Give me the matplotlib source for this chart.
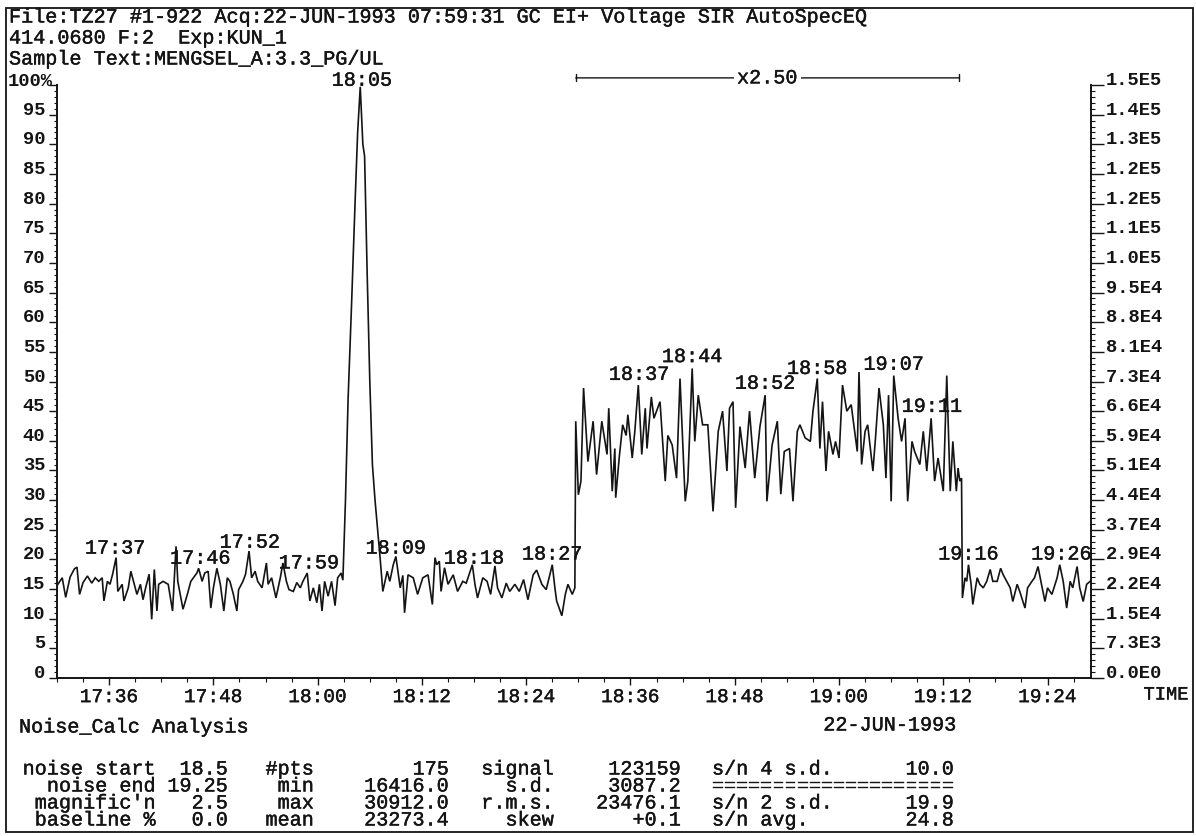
import numpy as np
import matplotlib
matplotlib.use("Agg")
import matplotlib.pyplot as plt
import matplotlib.patheffects as pe
from matplotlib.ticker import FixedLocator, MultipleLocator, FuncFormatter
from matplotlib.patches import Rectangle

# ---------------- data ----------------
# retention time in seconds after 17:00 (17:36 -> 36)
time_s = [
    30.1, 30.6, 31.0, 31.5, 32.0, 32.3, 32.6, 33.0, 33.5, 34.0, 34.4, 34.8, 35.2, 35.4, 35.8,
    36.1, 36.4, 36.8, 37.0, 37.5, 37.7, 38.2, 38.5, 38.9, 39.2, 39.6, 39.9, 40.2, 40.6, 40.9,
    41.2, 41.5, 41.7, 42.2, 42.8, 43.3, 43.7, 43.9, 44.5, 45.0, 45.4, 45.7, 46.1, 46.3, 46.7,
    47.0, 47.4, 47.7, 48.0, 48.4, 48.8, 49.2, 49.6, 49.9, 50.3, 50.7, 50.9, 51.4, 51.7, 52.1,
    52.4, 52.8, 53.1, 53.6, 54.1, 54.3, 54.7, 55.2, 55.7, 56.0, 56.4, 56.7, 57.2, 57.6, 58.0,
    58.3, 58.8, 59.1, 59.5, 59.9, 60.2, 60.5, 60.8, 61.2, 61.6, 62.0, 62.3, 62.7, 62.9,
    63.2, 63.5, 63.9, 64.3, 64.6, 64.9, 65.2, 65.4, 65.7, 66.0, 66.3, 66.6, 66.9, 67.2, 67.5,
    68.0, 68.3, 68.7, 69.0, 69.5, 69.8, 70.0, 70.4, 71.0, 71.5, 72.1, 72.7, 73.2, 73.5, 73.7,
    74.0, 74.2, 74.6, 75.0, 75.6, 76.1, 76.7, 77.1, 77.8, 78.1, 78.4, 79.0, 79.5, 79.9, 80.4,
    80.7, 81.2, 81.7, 82.1, 82.7, 83.2, 83.7, 84.2, 84.8, 85.2, 85.8, 86.3, 87.0, 87.3, 87.5,
    88.1, 88.5, 88.8, 89.3, 89.6,
    89.7, 90.0, 90.3, 90.6, 91.1, 91.7, 92.1, 92.7, 93.3, 93.5, 93.9, 94.2, 94.3, 94.7, 95.1,
    95.5, 95.7, 96.2, 96.5, 96.9, 97.3, 97.7, 97.9, 98.4, 98.7, 99.4, 100.0, 100.3, 100.8, 101.3,
    101.7, 102.3, 102.6, 103.1, 103.4, 103.8, 104.3, 104.9, 105.5, 106.1, 106.6, 107.1, 107.4, 107.8, 108.1,
    108.6, 109.2, 109.7, 110.3, 110.9, 111.5, 111.7, 112.3, 112.9, 113.3, 113.7, 114.3, 114.7, 115.2, 115.5,
    116.1, 116.7, 117.0, 117.5, 117.8, 118.1, 118.5, 118.8, 119.3, 119.6, 120.0, 120.4, 120.9, 121.4, 121.8,
    122.1, 122.3, 122.6, 123.0, 123.3, 123.9, 124.2, 124.6, 125.1, 125.4, 125.7, 126.0, 126.3, 126.8, 127.2,
    127.6, 127.9, 128.4, 128.7, 129.3, 129.7, 130.1, 130.6, 131.0, 131.4, 132.0, 132.4, 132.8, 133.1, 133.5,
    133.7, 133.9, 134.1,
    134.2, 134.5, 134.7, 134.9, 135.2, 135.4, 135.9, 136.2, 136.6, 137.0, 137.4, 137.7, 138.2, 138.6, 138.9,
    139.3, 139.7, 140.0, 140.5, 140.8, 141.4, 141.7, 142.2, 142.5, 142.9, 143.3, 143.7, 144.0, 144.5, 145.1,
    145.4, 145.8, 146.2, 146.6, 146.9, 147.4, 147.7, 148.1, 148.5, 148.9,
]
# displayed intensity, % of full scale (the 18:30-19:14 window is shown x2.5)
intensity_pct = [
    15.8, 16.9, 13.6, 17.0, 18.4, 18.7, 14.1, 16.1, 17.2, 16.0, 16.9, 16.3, 16.9, 13.0, 16.3,
    15.8, 17.5, 20.3, 14.6, 15.8, 13.0, 15.2, 18.0, 15.8, 14.1, 15.8, 13.2, 15.2, 17.5, 9.9,
    18.3, 11.3, 15.8, 16.3, 15.8, 11.3, 22.2, 16.3, 11.6, 14.1, 16.3, 16.9, 17.7, 18.5, 16.3,
    17.7, 18.0, 11.8, 15.2, 18.5, 15.8, 11.3, 16.9, 16.3, 14.1, 11.3, 14.9, 16.3, 17.5, 21.4,
    16.9, 18.0, 16.3, 15.2, 19.4, 15.8, 16.9, 13.5, 16.9, 19.4, 16.3, 14.9, 14.6, 16.1, 15.2,
    16.3, 17.7, 13.0, 15.2, 12.7, 15.8, 11.3, 16.3, 13.8, 16.3, 12.2, 16.9, 17.7, 16.5,
    30.0, 47.0, 63.0, 80.0, 92.0, 99.7, 90.0, 88.0, 68.0, 50.0, 36.0, 30.0, 25.0, 20.0, 14.6,
    18.0, 16.3, 19.1, 20.5, 15.2, 17.3, 11.0, 17.4, 16.9, 14.1, 16.9, 17.4, 12.4, 20.3, 19.1,
    19.7, 14.6, 18.6, 15.8, 17.4, 14.6, 16.3, 16.0, 19.1, 15.8, 13.5, 16.9, 16.3, 14.1, 18.9,
    15.2, 13.5, 16.0, 14.6, 15.8, 14.6, 16.6, 13.2, 17.4, 18.2, 15.8, 14.9, 19.1, 15.2, 13.0,
    10.5, 14.1, 15.8, 14.1, 15.2,
    43.3, 30.9, 33.2, 48.9, 36.5, 43.3, 34.3, 43.3, 37.7, 45.5, 31.5, 38.7, 30.4, 37.1, 42.7,
    40.9, 44.4, 37.1, 41.6, 49.4, 37.7, 45.5, 38.7, 47.4, 43.8, 46.6, 33.2, 40.9, 39.3, 33.7,
    50.5, 29.8, 33.2, 52.2, 39.9, 47.7, 42.7, 42.7, 28.1, 41.6, 45.0, 34.9, 45.5, 46.6, 28.7,
    42.4, 35.4, 45.0, 33.7, 42.4, 47.7, 29.8, 39.3, 43.3, 31.0, 38.2, 38.7, 29.8, 41.6, 42.7,
    40.5, 39.9, 45.0, 50.5, 38.7, 46.6, 34.9, 41.6, 37.7, 39.9, 37.1, 49.4, 45.0, 46.1, 41.6,
    38.2, 51.6, 36.0, 41.6, 42.7, 34.9, 40.5, 48.9, 42.7, 33.7, 47.7, 29.8, 51.0, 43.8, 39.9,
    43.8, 29.8, 39.9, 38.2, 36.0, 41.6, 34.9, 43.8, 33.2, 37.1, 31.5, 51.0, 31.5, 39.9, 31.5,
    35.4, 33.2, 33.7,
    13.5, 16.9, 16.3, 19.1, 15.8, 12.4, 16.9, 15.8, 15.2, 16.3, 18.3, 16.3, 16.3, 18.5, 17.4,
    16.3, 15.2, 12.9, 15.8, 14.6, 11.8, 15.2, 16.3, 16.9, 18.8, 15.8, 12.9, 15.2, 14.1, 16.9,
    19.1, 16.3, 11.8, 16.3, 15.2, 18.8, 15.2, 12.9, 15.8, 16.3,
]

peak_labels = ["17:37", "17:46", "17:52", "17:59", "18:05", "18:09", "18:18", "18:27",
               "18:37", "18:44", "18:52", "18:58", "19:07", "19:11", "19:16", "19:26"]
peak_label_time = [36.7, 46.5, 52.2, 59.0, 65.1, 69.0, 78.0, 87.0,
                   97.0, 103.1, 111.5, 117.5, 126.3, 130.7, 134.9, 145.6]
peak_label_pct = [21.9, 20.2, 22.9, 19.4, 100.8, 21.9, 20.2, 20.9,
                  51.2, 54.2, 49.7, 52.2, 52.9, 45.8, 20.9, 20.9]

xtick_seconds = [36, 48, 60, 72, 84, 96, 108, 120, 132, 144]
time_range = (30.0, 149.0)
full_scale = 1.466e5
magnify_label = "x2.50"
magnify_start_s = 89.7
magnify_end_s = 133.8

header_lines = [
    "File:TZ27 #1-922 Acq:22-JUN-1993 07:59:31 GC EI+ Voltage SIR AutoSpecEQ",
    "414.0680 F:2  Exp:KUN_1",
    "Sample Text:MENGSEL_A:3.3_PG/UL",
]
analysis_title = "Noise_Calc Analysis"
analysis_date = "22-JUN-1993"
col_names1 = ["noise start", "noise end", "magnific'n", "baseline %"]
col_vals1 = ["18.5", "19.25", "2.5", "0.0"]
col_names2 = ["#pts", "min", "max", "mean"]
col_vals2 = ["175", "16416.0", "30912.0", "23273.4"]
col_names3 = ["signal", "s.d.", "r.m.s.", "skew"]
col_vals3 = ["123159", "3087.2", "23476.1", "+0.1"]
col_names4 = ["s/n 4 s.d.", "====================", "s/n 2 s.d.", "s/n avg."]
col_vals4 = ["10.0", "", "19.9", "24.8"]

# ---------------- figure ----------------
W, H = 1196, 836
FONT = "Liberation Mono"
INK = "#141414"
plt.rcParams["font.family"] = [FONT, "DejaVu Sans"]
THICK = [pe.withStroke(linewidth=0.3, foreground=INK)]

fig = plt.figure(figsize=(W / 100, H / 100), dpi=100)
fig.patch.set_facecolor("white")


def fx(x):
    return x / W


def fy(y):
    return 1 - y / H


ax_l, ax_r, ax_b, ax_t = 57, 1091, 678, 85
ax = fig.add_axes([fx(ax_l), fy(ax_b), (ax_r - ax_l) / W, (ax_b - ax_t) / H])
ax.plot(time_s, intensity_pct, color=INK, lw=1.2, solid_joinstyle="miter")
ax.set_xlim(*time_range)
ax.set_ylim(0, 100)

for s in ["top", "right"]:
    ax.spines[s].set_visible(False)
for s in ["left", "bottom"]:
    ax.spines[s].set_linewidth(1.4)
    ax.spines[s].set_color(INK)

# left % axis
yt = list(range(0, 101, 5))
ax.yaxis.set_major_locator(FixedLocator(yt))
ax.set_yticklabels(["" if v == 100 else str(v) for v in yt])
ax.yaxis.set_minor_locator(MultipleLocator(1))
ax.tick_params(axis="y", which="major", direction="out", length=6, width=1.0,
               pad=2.5, labelsize=13.5, colors=INK)
ax.tick_params(axis="y", which="minor", direction="out", length=2.5, width=0.8, colors=INK)
for lab in ax.get_yticklabels():
    lab.set_fontweight("bold")
for tk in ax.yaxis.get_major_ticks():
    tk.label1.set_verticalalignment("baseline")
fig.text(fx(8), fy(81), "100%", ha="left", va="center", fontsize=13.5,
         fontweight="bold", color=INK)

# time axis
ax.xaxis.set_major_locator(FixedLocator(xtick_seconds))
ax.xaxis.set_major_formatter(FuncFormatter(lambda s, p: f"{17 + int(s) // 60}:{int(s) % 60:02d}"))
ax.xaxis.set_minor_locator(MultipleLocator(3))
ax.tick_params(axis="x", which="major", direction="out", length=5, width=1.0,
               pad=3, labelsize=14, colors=INK)
ax.tick_params(axis="x", which="minor", direction="out", length=3, width=0.8, colors=INK)
for lab in ax.get_xticklabels():
    lab.set_path_effects(THICK)

# right absolute axis
ax2 = ax.twinx()
ax2.set_ylim(0, full_scale)
ax2.yaxis.set_major_locator(FixedLocator(np.arange(21) * full_scale / 20))
ax2.yaxis.set_major_formatter(FuncFormatter(
    lambda v, p: f"{v:.1E}".replace("E+0", "E").replace("E+", "E")))
ax2.yaxis.set_minor_locator(MultipleLocator(full_scale / 100))
for s in ["top", "left", "bottom"]:
    ax2.spines[s].set_visible(False)
ax2.spines["right"].set_linewidth(1.4)
ax2.spines["right"].set_color(INK)
ax2.tick_params(axis="y", which="major", direction="out", length=9, width=1.0,
                pad=1.5, labelsize=13.5, colors=INK)
ax2.tick_params(axis="y", which="minor", direction="out", length=3, width=0.8, colors=INK)
for lab in ax2.get_yticklabels():
    lab.set_fontweight("bold")
for tk in ax2.yaxis.get_major_ticks():
    tk.label2.set_verticalalignment("baseline")

# peak labels
for lab, t, y in zip(peak_labels, peak_label_time, peak_label_pct):
    ax.text(t, y, lab, ha="center", va="center", fontsize=14.5, color=INK, clip_on=False,
            path_effects=THICK)

# magnification bar
bar_y = 101.2
ax.annotate("", xy=(magnify_start_s, bar_y), xytext=(magnify_end_s, bar_y),
            arrowprops=dict(arrowstyle="|-|,widthA=0.25,widthB=0.25", lw=1.0, color=INK,
                            shrinkA=0, shrinkB=0), annotation_clip=False)
ax.text((magnify_start_s + magnify_end_s) / 2, bar_y, magnify_label, ha="center", va="center",
        fontsize=14.5, color=INK, clip_on=False, path_effects=THICK,
        bbox=dict(boxstyle="square,pad=0.15", fc="white", ec="none"))

# header text
for i, line in enumerate(header_lines):
    fig.text(fx(9), fy(17 + 21 * i), line, ha="left", va="center", fontsize=14.5, color=INK,
             path_effects=THICK)

fig.text(fx(1166), fy(695), "TIME", ha="center", va="center", fontsize=13.5, color=INK,
         path_effects=THICK)
fig.text(fx(19), fy(727), analysis_title, ha="left", va="center", fontsize=14.5, color=INK,
         path_effects=THICK)
fig.text(fx(890), fy(725), analysis_date, ha="center", va="center", fontsize=14.5, color=INK,
         path_effects=THICK)

# noise table
row_y = [769, 786, 803, 820]
columns = [
    (col_names1, 156, "right"), (col_vals1, 228, "right"),
    (col_names2, 314, "right"), (col_vals2, 449, "right"),
    (col_names3, 554, "right"), (col_vals3, 681, "right"),
    (col_names4, 712, "left"), (col_vals4, 954, "right"),
]
for texts, xpos, ha in columns:
    for txt, yy in zip(texts, row_y):
        fig.text(fx(xpos), fy(yy), txt, ha=ha, va="center", fontsize=14.5, color=INK,
                 path_effects=THICK)

# page border
fig.add_artist(Rectangle((fx(6), fy(832)), (1193 - 6) / W, (832 - 8) / H,
                         transform=fig.transFigure, fill=False, lw=1.3, ec=INK))

fig.savefig("out.png", dpi=100, facecolor="white")
